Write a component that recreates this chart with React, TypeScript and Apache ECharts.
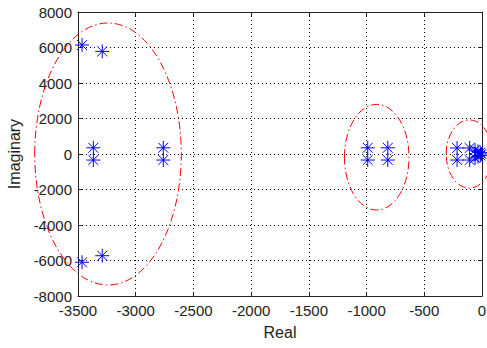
import React, { useEffect, useRef } from "react";
import * as echarts from "echarts";

// Pole locations (real part, imaginary part)
const poleReal = [
  -3465, -3465, -3290, -3290, -3367, -3367, -2761, -2761,
  -990, -990, -816, -816,
  -216, -216, -107, -107, -60, -60, -35, -35, -15, -15, -5,
];
const poleImag = [
  6140, -6100, 5780, -5730, 350, -340, 350, -340,
  350, -340, 350, -340,
  340, -340, 340, -340, 220, -220, 150, -150, 80, -80, 0,
];

// Ellipses grouping the poles: [centerReal, centerImag, radiusReal, radiusImag]
const ellipses = [
  [-3240, 0, 635, 7380],
  [-912, -180, 280, 2975],
  [-110, 0, 200, 1920],
];

const xTicks = { min: -3500, max: 0, interval: 500 };
const yTicks = { min: -8000, max: 8000, interval: 2000 };

const FONT = "'Liberation Sans', Arial, sans-serif";
const STAR =
  "path://M0,-10L0,10M-10,0L10,0M-7.07,-7.07L7.07,7.07M-7.07,7.07L7.07,-7.07";

export default function App() {
  const ref = useRef<HTMLDivElement>(null);
  useEffect(() => {
    document.body.style.margin = "0";
    const chart = echarts.init(ref.current!, undefined, { renderer: "svg" });
    const axisLine = { show: true, onZero: false, lineStyle: { color: "#222", width: 1 } };
    const tick = { show: true, inside: true, length: 4, lineStyle: { color: "#222" } };
    const grid = { show: true, lineStyle: { color: "#000", type: [1, 3], width: 1 } };
    const label = {
      color: "#222",
      fontSize: 15,
      fontFamily: FONT,
      formatter: (v: number) => String(v),
    };
    chart.setOption({
      animation: false,
      backgroundColor: "#fff",
      grid: { left: 78, right: 5, top: 12, bottom: 52, outerBoundsMode: "none", containLabel: false },
      xAxis: [
        {
          type: "value",
          ...xTicks,
          name: "Real",
          nameLocation: "middle",
          nameGap: 28,
          nameTextStyle: { color: "#222", fontSize: 16, fontFamily: FONT },
          axisLine,
          axisTick: tick,
          axisLabel: { ...label, margin: 7 },
          splitLine: grid,
        },
        {
          type: "value",
          ...xTicks,
          position: "top",
          axisLine,
          axisTick: tick,
          axisLabel: { show: false },
          splitLine: { show: false },
        },
      ],
      yAxis: [
        {
          type: "value",
          ...yTicks,
          name: "Imaginary",
          nameLocation: "middle",
          nameGap: 54,
          nameTextStyle: { color: "#222", fontSize: 16, fontFamily: FONT },
          axisLine,
          axisTick: tick,
          axisLabel: { ...label, margin: 6 },
          splitLine: grid,
        },
        {
          type: "value",
          ...yTicks,
          position: "right",
          axisLine,
          axisTick: tick,
          axisLabel: { show: false },
          splitLine: { show: false },
        },
      ],
      series: [
        {
          type: "custom",
          clip: false,
          encode: { x: 0, y: 1 },
          data: ellipses,
          renderItem: (params: any, api: any) => {
            const c = api.coord([api.value(0), api.value(1)]);
            const s = api.size([api.value(2), api.value(3)]);
            return {
              type: "ellipse",
              shape: { cx: c[0], cy: c[1], rx: s[0], ry: s[1] },
              style: { fill: "none", stroke: "#ff0000", lineWidth: 1, lineDash: [8, 3, 1.5, 3] },
            };
          },
          z: 2,
        },
        {
          type: "scatter",
          data: poleReal.map((r, i) => [r, poleImag[i]]),
          symbol: STAR,
          symbolSize: 14,
          clip: false,
          itemStyle: { color: "#0000ff", borderColor: "#0000ff", borderWidth: 1, opacity: 1 },
          z: 3,
        },
      ],
    });
    return () => chart.dispose();
  }, []);
  return <div ref={ref} style={{ width: 487, height: 348 }} />;
}
